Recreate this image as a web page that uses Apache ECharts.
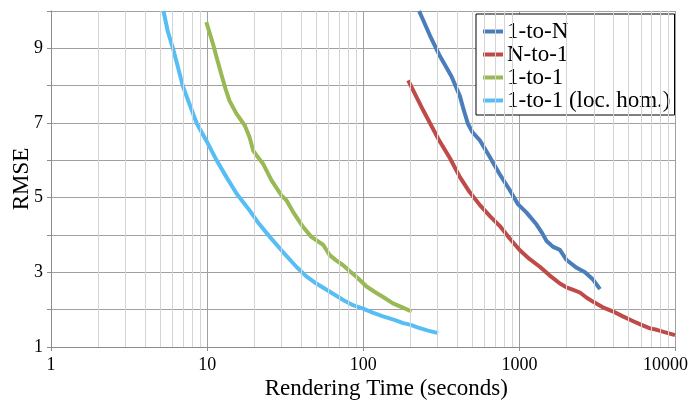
<!DOCTYPE html>
<html>
<head>
<meta charset="utf-8">
<script src="https://cdn.jsdelivr.net/npm/echarts@6/dist/echarts.min.js"></script>
<style>html,body{margin:0;padding:0;background:#fff;}#c{width:690px;height:400px;}</style>
</head>
<body>
<div id="c"></div>
<script>
// Series data: [rendering time (s), RMSE]
const oneToN = [[228,10.0],[267,9.35],[309,8.8],[367,8.25],[416,7.72],[440,7.35],[468,6.98],[500,6.76],[559,6.53],[648,6.08],[750,5.62],[869,5.2],[982,4.82],[1112,4.6],[1289,4.28],[1400,4.05],[1493,3.84],[1648,3.68],[1818,3.6],[2008,3.33],[2328,3.12],[2633,3.0],[2973,2.8],[3283,2.55]];
const nToOne = [[194,8.14],[242,7.34],[302,6.58],[360,6.05],[416,5.55],[480,5.15],[559,4.8],[650,4.5],[750,4.24],[870,3.9],[1007,3.59],[1160,3.36],[1352,3.15],[1560,2.92],[1818,2.7],[2000,2.6],[2213,2.53],[2442,2.46],[2700,2.32],[2973,2.21],[3400,2.07],[3991,1.95],[4600,1.82],[5365,1.69],[6000,1.6],[6866,1.5],[7580,1.46],[8500,1.4],[9930,1.32]];
const oneToOne = [[9.88,9.7],[10.9,9.12],[11.6,8.7],[12.3,8.32],[13.1,7.92],[13.9,7.6],[15.4,7.25],[17.4,6.94],[18.7,6.62],[19.7,6.27],[21.0,6.1],[22.8,5.91],[25.8,5.47],[29.9,5.06],[32.2,4.93],[35.5,4.62],[41.1,4.22],[46.5,3.95],[52.6,3.8],[55.3,3.74],[61.0,3.46],[67,3.32],[74.3,3.19],[82,3.03],[90.4,2.88],[105,2.62],[118,2.48],[134,2.34],[155,2.17],[178,2.06],[204,1.95]];
const oneToOneLoc = [[5.25,10.0],[5.6,9.45],[6.04,9.0],[6.5,8.5],[7.0,7.98],[7.8,7.45],[8.6,6.98],[9.97,6.5],[11.5,6.0],[13.3,5.55],[15.5,5.1],[18.7,4.66],[21.5,4.3],[25.2,3.95],[30.5,3.55],[37.3,3.15],[43,2.9],[50.1,2.7],[60,2.5],[74.3,2.26],[86,2.12],[99.7,2.03],[115,1.92],[134,1.82],[160,1.72],[180,1.64],[199,1.6],[225,1.52],[260,1.44],[302,1.37]];
const seriesNames = ['1-to-N','N-to-1','1-to-1','1-to-1 (loc. hom.)'];
const seriesColors = ['#4a7ebb','#be4b48','#98b954','#56bef5'];
const xTicks = [1,10,100,1000,10000];
const yOddLabels = [1,3,5,7,9];
const minorX = [];
for (let d = 1; d < 10000; d *= 10) { for (let k = 2; k <= 9; k++) minorX.push(d * k); }

const chart = echarts.init(document.getElementById('c'));
const font = '"Liberation Serif", "Times New Roman", serif';
const datasets = [oneToN, nToOne, oneToOne, oneToOneLoc];
const series = datasets.map((d, i) => ({
  name: seriesNames[i], type: 'line', data: d, showSymbol: false, smooth: false,
  lineStyle: { width: 4, color: seriesColors[i] }, itemStyle: { color: seriesColors[i] }, z: 3
}));
series.unshift({
  name: 'minor', type: 'line', data: [], silent: true, z: 1,
  markLine: { silent: true, symbol: 'none', label: { show: false },
    lineStyle: { color: '#d4d4d4', width: 1, type: 'solid' },
    emphasis: { disabled: true },
    data: minorX.map(v => ({ xAxis: v })) }
});
chart.setOption({
  animation: false,
  backgroundColor: '#fff',
  grid: { left: 51, right: 14.5, top: 11, bottom: 53, containLabel: false, outerBoundsMode: 'none' },
  legend: {
    data: seriesNames, orient: 'vertical', left: 476, top: 14,
    padding: [6, 4, 3, 7], itemGap: 0, itemWidth: 20, itemHeight: 4, icon: 'rect',
    borderColor: '#000', borderWidth: 1, backgroundColor: '#fff',
    textStyle: { fontFamily: font, fontSize: 23, lineHeight: 23, color: '#000', padding: [0, 0, 0, -1] }
  },
  xAxis: {
    type: 'log', logBase: 10, min: 1, max: 10000,
    name: 'Rendering Time (seconds)', nameLocation: 'middle', nameGap: 30, nameMoveOverlap: false,
    nameTextStyle: { fontFamily: font, fontSize: 23, color: '#000', verticalAlign: 'top', padding: [0, 0, 0, 46] },
    axisLine: { lineStyle: { color: '#8c8c8c' } },
    axisTick: { show: true, length: 4, lineStyle: { color: '#8c8c8c' } },
    axisLabel: { fontFamily: font, fontSize: 18, color: '#000', margin: 9,
      formatter: v => (xTicks.indexOf(v) >= 0 ? (v === 10000 ? '{m|' + v + '}' : String(v)) : ''),
      rich: { m: { fontFamily: font, fontSize: 18, color: '#000', padding: [0, 20, 0, 0] } } },
    splitLine: { show: true, lineStyle: { color: '#a0a0a0' } }
  },
  yAxis: {
    type: 'value', min: 1, max: 10, interval: 1,
    name: 'RMSE', nameLocation: 'middle', nameGap: 17.5, nameRotate: 90, nameMoveOverlap: false,
    nameTextStyle: { fontFamily: font, fontSize: 23, color: '#000' },
    axisLine: { show: true, lineStyle: { color: '#8c8c8c' } },
    axisTick: { show: true, length: 4, lineStyle: { color: '#8c8c8c' } },
    axisLabel: { fontFamily: font, fontSize: 18, color: '#000', margin: 8,
      formatter: v => (yOddLabels.indexOf(v) >= 0 ? String(v) : '') },
    splitLine: { show: true, lineStyle: { color: '#a0a0a0' } }
  },
  series: series
});
</script>
</body>
</html>
